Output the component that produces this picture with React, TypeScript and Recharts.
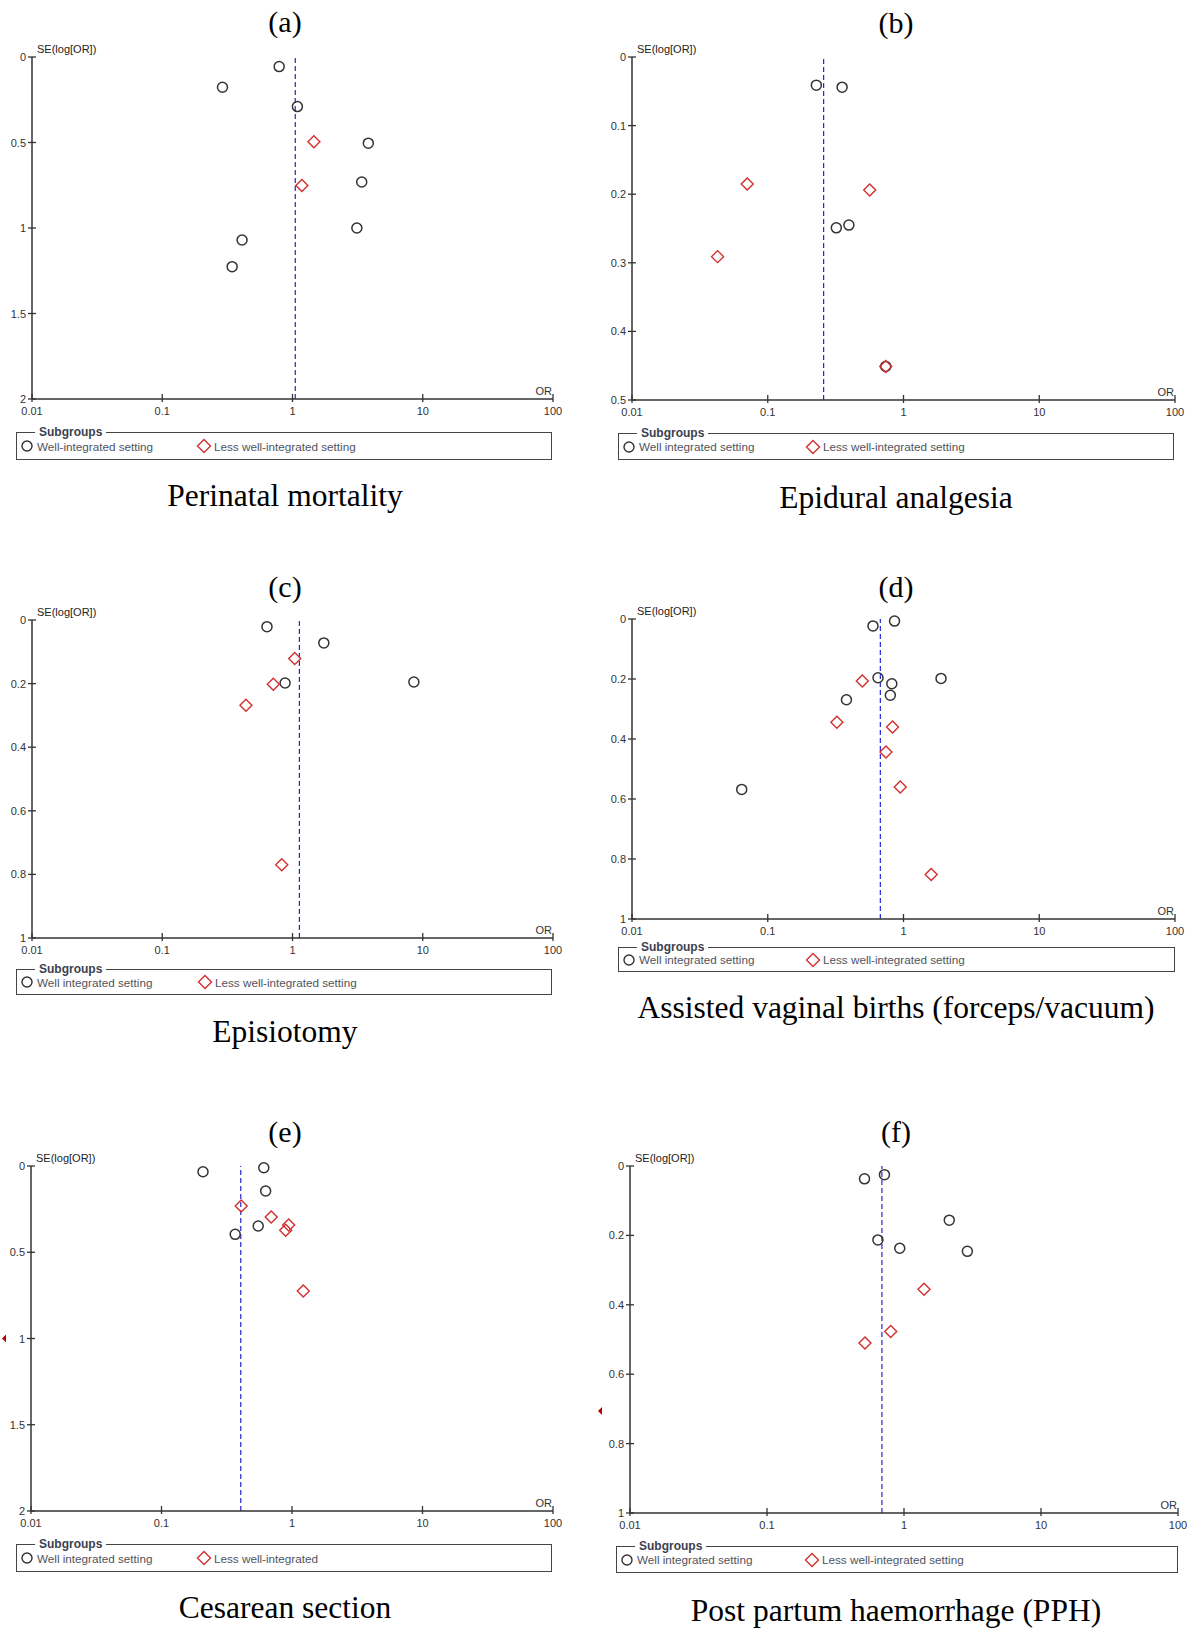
import React from 'react';
import { ScatterChart, Scatter, XAxis, YAxis, ReferenceLine, ReferenceDot } from 'recharts';

// ---------- data ----------
const orTicks = [0.01, 0.1, 1, 10, 100];

const panelTitles = ['(a)', '(b)', '(c)', '(d)', '(e)', '(f)'];
const panelCaptions = [
  'Perinatal mortality',
  'Epidural analgesia',
  'Episiotomy',
  'Assisted vaginal births (forceps/vacuum)',
  'Cesarean section',
  'Post partum haemorrhage (PPH)',
];
const wellLabels = [
  'Well-integrated setting',
  'Well integrated setting',
  'Well integrated setting',
  'Well integrated setting',
  'Well integrated setting',
  'Well integrated setting',
];
const lessLabels = [
  'Less well-integrated setting',
  'Less well-integrated setting',
  'Less well-integrated setting',
  'Less well-integrated setting',
  'Less well-integrated',
  'Less well-integrated setting',
];

// (a) Perinatal mortality
const perinatalWell = [
  { or: 0.29, se: 0.177 }, { or: 0.79, se: 0.056 }, { or: 1.09, se: 0.29 },
  { or: 3.82, se: 0.504 }, { or: 3.4, se: 0.731 }, { or: 3.12, se: 1.0 },
  { or: 0.41, se: 1.07 }, { or: 0.344, se: 1.226 },
];
const perinatalLess = [{ or: 1.46, se: 0.496 }, { or: 1.18, se: 0.751 }];
const perinatalPooled = 1.05;
const perinatalSeTicks = [0, 0.5, 1, 1.5, 2];

// (b) Epidural analgesia
const epiduralWell = [
  { or: 0.228, se: 0.041 }, { or: 0.353, se: 0.044 }, { or: 0.32, se: 0.249 },
  { or: 0.396, se: 0.245 }, { or: 0.74, se: 0.451 },
];
const epiduralLess = [
  { or: 0.0706, se: 0.185 }, { or: 0.564, se: 0.194 }, { or: 0.0427, se: 0.291 },
  { or: 0.74, se: 0.451 },
];
const epiduralPooled = 0.258;
const epiduralSeTicks = [0, 0.1, 0.2, 0.3, 0.4, 0.5];

// (c) Episiotomy
const episiotomyWell = [
  { or: 0.637, se: 0.021 }, { or: 1.74, se: 0.072 }, { or: 0.877, se: 0.198 },
  { or: 8.55, se: 0.195 },
];
const episiotomyLess = [
  { or: 1.04, se: 0.121 }, { or: 0.712, se: 0.202 }, { or: 0.439, se: 0.268 },
  { or: 0.827, se: 0.77 },
];
const episiotomyPooled = 1.13;
const episiotomySeTicks = [0, 0.2, 0.4, 0.6, 0.8, 1];

// (d) Assisted vaginal births
const assistedWell = [
  { or: 0.859, se: 0.007 }, { or: 0.596, se: 0.023 }, { or: 0.649, se: 0.196 },
  { or: 1.89, se: 0.198 }, { or: 0.82, se: 0.216 }, { or: 0.8, se: 0.254 },
  { or: 0.38, se: 0.269 }, { or: 0.0643, se: 0.568 },
];
const assistedLess = [
  { or: 0.497, se: 0.207 }, { or: 0.323, se: 0.344 }, { or: 0.83, se: 0.36 },
  { or: 0.743, se: 0.443 }, { or: 0.946, se: 0.56 }, { or: 1.6, se: 0.852 },
];
const assistedPooled = 0.675;
const assistedSeTicks = [0, 0.2, 0.4, 0.6, 0.8, 1];

// (e) Cesarean section
const cesareanWell = [
  { or: 0.208, se: 0.033 }, { or: 0.608, se: 0.01 }, { or: 0.628, se: 0.145 },
  { or: 0.551, se: 0.348 }, { or: 0.367, se: 0.396 },
];
const cesareanLess = [
  { or: 0.408, se: 0.232 }, { or: 0.693, se: 0.296 }, { or: 0.943, se: 0.342 },
  { or: 0.895, se: 0.373 }, { or: 1.22, se: 0.725 },
];
const cesareanPooled = 0.405;
const cesareanSeTicks = [0, 0.5, 1, 1.5, 2];
const cesareanMarkSe = 1;

// (f) PPH
const pphWell = [
  { or: 0.515, se: 0.037 }, { or: 0.72, se: 0.025 }, { or: 2.14, se: 0.156 },
  { or: 0.645, se: 0.213 }, { or: 0.931, se: 0.237 }, { or: 2.9, se: 0.246 },
];
const pphLess = [{ or: 1.4, se: 0.355 }, { or: 0.8, se: 0.477 }, { or: 0.519, se: 0.51 }];
const pphPooled = 0.69;
const pphSeTicks = [0, 0.2, 0.4, 0.6, 0.8, 1];
const pphMarkSe = 0.706;

// ---------- layout (pixel geometry, kept apart from data) ----------
const layouts = [
  { x0: 32, x1: 553, y0: 57, y1: 399, cx: 285, titleBase: 32, capBase: 506, lg: { l: 16, r: 552, t: 432, b: 460, off: 187 } },
  { x0: 632, x1: 1175, y0: 57, y1: 400, cx: 896, titleBase: 33, capBase: 508, lg: { l: 618, r: 1174, t: 433, b: 460, off: 194 } },
  { x0: 32, x1: 553, y0: 620, y1: 938, cx: 285, titleBase: 597, capBase: 1042, lg: { l: 16, r: 552, t: 969, b: 995, off: 188 } },
  { x0: 632, x1: 1175, y0: 619, y1: 919, cx: 896, titleBase: 597, capBase: 1018, lg: { l: 618, r: 1175, t: 947, b: 972, off: 194 } },
  { x0: 31, x1: 553, y0: 1166, y1: 1511, cx: 285, titleBase: 1142, capBase: 1618, lg: { l: 16, r: 552, t: 1544, b: 1572, off: 187 } },
  { x0: 630, x1: 1178, y0: 1166, y1: 1513, cx: 896, titleBase: 1142, capBase: 1621, lg: { l: 616, r: 1178, t: 1546, b: 1573, off: 195 } },
];

const AXIS_FONT = "'Liberation Sans', Arial, sans-serif";
const SERIF = "'Liberation Serif', 'Times New Roman', serif";
const AXIS_COLOR = '#333';
const CIRCLE_COLOR = '#333';
const DIAMOND_COLOR = '#d42f2f';
const POOLED_COLOR = '#2323d8';

// ---------- marks ----------
const CircleMark = (props: any) => {
  const { cx, cy } = props;
  if (cx == null || cy == null) return null;
  return <circle cx={cx} cy={cy} r={5} fill="none" stroke={CIRCLE_COLOR} strokeWidth={1.5} />;
};

const DiamondMark = (props: any) => {
  const { cx, cy } = props;
  if (cx == null || cy == null) return null;
  const h = 6;
  return (
    <polygon
      points={`${cx},${cy - h} ${cx + h},${cy} ${cx},${cy + h} ${cx - h},${cy}`}
      fill="none"
      stroke={DIAMOND_COLOR}
      strokeWidth={1.4}
    />
  );
};

const XTick = (props: any) => {
  const { x, y, payload } = props;
  const v = payload.value;
  return (
    <g>
      <line x1={x} x2={x} y1={y - 5} y2={y + 3} stroke={AXIS_COLOR} strokeWidth={1.3} />
      <text x={x} y={y + 16} textAnchor="middle" fontSize={11} fill={AXIS_COLOR} fontFamily={AXIS_FONT}>
        {String(v)}
      </text>
      {v === 100 && (
        <text x={x - 1} y={y - 4} textAnchor="end" fontSize={11} fill={AXIS_COLOR} fontFamily={AXIS_FONT}>
          OR
        </text>
      )}
    </g>
  );
};

const YTick = (props: any) => {
  const { x, y, payload } = props;
  const v = payload.value;
  return (
    <g>
      <line x1={x - 4} x2={x + 4} y1={y} y2={y} stroke={AXIS_COLOR} strokeWidth={1.3} />
      <text x={x - 6} y={y + 4} textAnchor="end" fontSize={11} fill={AXIS_COLOR} fontFamily={AXIS_FONT}>
        {String(v)}
      </text>
      {v === 0 && (
        <text x={x + 5} y={y - 4} textAnchor="start" fontSize={11} fill="#222" fontFamily={AXIS_FONT}>
          SE(log[OR])
        </text>
      )}
    </g>
  );
};

const makeTriangle = (dx: number) => (props: any) => {
  const { cx, cy } = props;
  if (cx == null || cy == null) return null;
  return (
    <polygon
      points={`${cx + dx},${cy} ${cx + dx + 4},${cy - 4} ${cx + dx + 4},${cy + 4}`}
      fill="#c00000"
    />
  );
};

// ---------- panel ----------
type Pt = { or: number; se: number };

function FunnelPanel(p: {
  lay: any;
  well: Pt[];
  less: Pt[];
  pooled: number;
  seTicks: number[];
  markSe?: number;
  markDx?: number;
}) {
  const { lay, well, less, pooled, seTicks, markSe, markDx } = p;
  const yw = 40;
  const xh = 30;
  const mt = 30;
  const mr = 30;
  const width = lay.x1 - lay.x0 + yw + mr;
  const height = lay.y1 - lay.y0 + mt + xh;
  return (
    <div style={{ position: 'absolute', left: lay.x0 - yw, top: lay.y0 - mt }}>
      <ScatterChart width={width} height={height} margin={{ top: mt, right: mr, bottom: 0, left: 0 }}>
        <XAxis
          type="number"
          dataKey="or"
          scale="log"
          domain={[0.01, 100]}
          ticks={orTicks}
          interval={0}
          height={xh}
          tickSize={0}
          tickMargin={0}
          tickLine={false}
          axisLine={{ stroke: AXIS_COLOR, strokeWidth: 1.5 }}
          tick={<XTick />}
        />
        <YAxis
          type="number"
          dataKey="se"
          domain={[0, seTicks[seTicks.length - 1]]}
          ticks={seTicks}
          interval={0}
          reversed
          width={yw}
          tickSize={0}
          tickMargin={0}
          tickLine={false}
          axisLine={{ stroke: AXIS_COLOR, strokeWidth: 1.5 }}
          tick={<YTick />}
        />
        <ReferenceLine x={pooled} stroke={POOLED_COLOR} strokeDasharray="5 3" strokeWidth={1.2} />
        <Scatter data={well} shape={CircleMark} isAnimationActive={false} />
        <Scatter data={less} shape={DiamondMark} isAnimationActive={false} />
        {markSe != null && (
          <ReferenceDot x={0.01} y={markSe} ifOverflow="visible" shape={makeTriangle(markDx || -28)} />
        )}
      </ScatterChart>
    </div>
  );
}

function SubgroupLegend({ lg, wellLabel, lessLabel }: { lg: any; wellLabel: string; lessLabel: string }) {
  const w = lg.r - lg.l;
  const h = lg.b - lg.t;
  const itemStyle: React.CSSProperties = {
    position: 'absolute',
    top: h / 2 - 9,
    height: 16,
    display: 'flex',
    alignItems: 'center',
    fontFamily: AXIS_FONT,
    fontSize: 11.7,
    color: '#50545f',
    whiteSpace: 'nowrap',
  };
  return (
    <div
      style={{
        position: 'absolute',
        left: lg.l,
        top: lg.t,
        width: w,
        height: h,
        border: '1.5px solid #444',
        boxSizing: 'border-box',
      }}
    >
      <span
        style={{
          position: 'absolute',
          left: 18,
          top: -9,
          background: '#fff',
          padding: '0 4px',
          fontFamily: AXIS_FONT,
          fontWeight: 'bold',
          fontSize: 12,
          lineHeight: '16px',
          color: '#3c4150',
        }}
      >
        Subgroups
      </span>
      <div style={{ ...itemStyle, left: 3 }}>
        <svg width={14} height={14} style={{ marginRight: 3 }}>
          <circle cx={7} cy={7} r={5} fill="none" stroke={CIRCLE_COLOR} strokeWidth={1.4} />
        </svg>
        {wellLabel}
      </div>
      <div style={{ ...itemStyle, left: lg.off - 8 }}>
        <svg width={16} height={16} style={{ marginRight: 2 }}>
          <polygon points="8,1.5 14.5,8 8,14.5 1.5,8" fill="none" stroke={DIAMOND_COLOR} strokeWidth={1.4} />
        </svg>
        {lessLabel}
      </div>
    </div>
  );
}

function TextLine({ text, cx, base, size }: { text: string; cx: number; base: number; size: number }) {
  return (
    <div
      style={{
        position: 'absolute',
        left: cx - 300,
        width: 600,
        top: base - 0.8375 * size,
        fontFamily: SERIF,
        fontSize: size,
        lineHeight: `${size}px`,
        textAlign: 'center',
        color: '#000',
        whiteSpace: 'nowrap',
      }}
    >
      {text}
    </div>
  );
}

const panelData = [
  { well: perinatalWell, less: perinatalLess, pooled: perinatalPooled, seTicks: perinatalSeTicks },
  { well: epiduralWell, less: epiduralLess, pooled: epiduralPooled, seTicks: epiduralSeTicks },
  { well: episiotomyWell, less: episiotomyLess, pooled: episiotomyPooled, seTicks: episiotomySeTicks },
  { well: assistedWell, less: assistedLess, pooled: assistedPooled, seTicks: assistedSeTicks },
  { well: cesareanWell, less: cesareanLess, pooled: cesareanPooled, seTicks: cesareanSeTicks, markSe: cesareanMarkSe, markDx: -29 },
  { well: pphWell, less: pphLess, pooled: pphPooled, seTicks: pphSeTicks, markSe: pphMarkSe, markDx: -32 },
];

export default function App() {
  return (
    <div style={{ position: 'absolute', left: 0, top: 0, width: 1203, height: 1631, background: '#fff', overflow: 'hidden' }}>
      {panelData.map((d, i) => {
        const lay = layouts[i];
        return (
          <React.Fragment key={i}>
            <TextLine text={panelTitles[i]} cx={lay.cx} base={lay.titleBase} size={30} />
            <FunnelPanel
              lay={lay}
              well={d.well}
              less={d.less}
              pooled={d.pooled}
              seTicks={d.seTicks}
              markSe={(d as any).markSe}
              markDx={(d as any).markDx}
            />
            <SubgroupLegend lg={lay.lg} wellLabel={wellLabels[i]} lessLabel={lessLabels[i]} />
            <TextLine text={panelCaptions[i]} cx={lay.cx} base={lay.capBase} size={31.5} />
          </React.Fragment>
        );
      })}
    </div>
  );
}
